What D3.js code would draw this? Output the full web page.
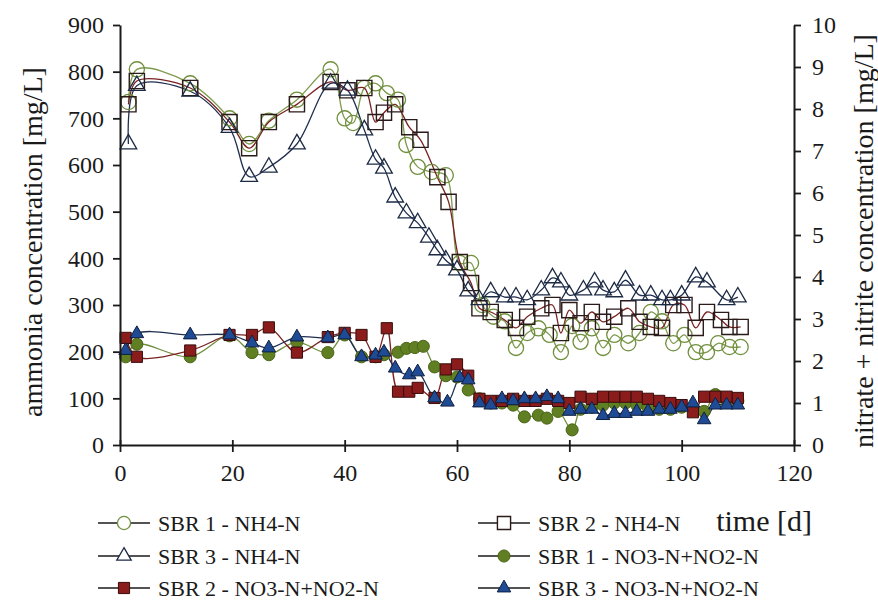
<!DOCTYPE html>
<html><head><meta charset="utf-8">
<script src="https://cdn.jsdelivr.net/npm/d3@7"></script>
<style>
html,body{margin:0;padding:0;background:#fff;}
svg{display:block;}
text{font-family:"Liberation Serif","Times New Roman",serif;fill:#1a1a1a;}
</style></head>
<body>
<svg id="c" width="878" height="602"></svg>
<script>
// ---- data ----
const xTicks = [0, 20, 40, 60, 80, 100, 120];
const yLeftTicks = [0, 100, 200, 300, 400, 500, 600, 700, 800, 900];
const yRightTicks = [0, 1, 2, 3, 4, 5, 6, 7, 8, 9, 10];

const sbr1NH4Days = [1.5, 3, 12.5, 19.5, 23, 26.5, 31.5, 37.5, 40, 41.5, 43.5, 45.5, 47.5, 49.5, 51, 53, 55.5, 58, 60.5, 62.5, 64.5, 66.5, 68.5, 70.5, 72.5, 74.5, 76.5, 78.5, 80.5, 82, 84, 86, 88, 90.5, 92.5, 94.5, 96.5, 98.5, 100.5, 102.5, 104.5, 106.5, 108.5, 110.5];
const sbr1NH4 = [735, 805, 775, 700, 645, 695, 740, 805, 700, 690, 765, 775, 754, 740, 643, 596, 585, 578, 390, 390, 300, 275, 265, 208, 240, 250, 236, 199, 255, 221, 250, 208, 236, 218, 240, 285, 265, 218, 236, 199, 199, 218, 210, 210];

const sbr2NH4Days = [1.5, 3, 12.5, 19.5, 23, 26.5, 31.5, 37.5, 40.5, 43.5, 45.5, 47, 49, 51.5, 53.5, 56.5, 58.5, 60.5, 62.5, 64, 66, 68.5, 70.5, 72.5, 75, 77, 78.5, 80, 82, 84, 86, 88, 90.5, 92.5, 94.5, 96.5, 98.5, 100.5, 102.5, 104.5, 107, 108.5, 110.5];
const sbr2NH4 = [730, 780, 765, 692, 636, 692, 730, 778, 760, 765, 692, 712, 730, 681, 654, 574, 521, 392, 347, 293, 285, 268, 251, 275, 293, 300, 240, 289, 261, 285, 264, 275, 293, 264, 253, 251, 300, 300, 251, 285, 268, 253, 253];

const sbr3NH4Days = [1.5, 3, 12.5, 19.5, 23, 26.5, 31.5, 37.5, 40.5, 43.5, 45.5, 47, 49, 51, 53, 55, 56.5, 58, 60, 62, 64, 66, 68.5, 70.5, 72.5, 75, 77, 78.5, 80, 82.5, 84.5, 86, 88, 90, 92.5, 94.5, 96.5, 98, 100, 102.5, 104.5, 108, 110];
const sbr3NH4 = [645, 770, 758, 680, 575, 595, 645, 775, 760, 675, 612, 593, 531, 497, 476, 445, 418, 396, 375, 330, 311, 328, 317, 317, 311, 332, 358, 349, 321, 332, 349, 332, 328, 353, 321, 321, 311, 311, 321, 360, 349, 311, 317];

const sbr1NOxDays = [1, 3, 12.5, 19.5, 23.5, 26.5, 31.5, 37, 40, 43, 45.5, 47, 49.5, 51, 52.5, 54, 56, 58, 60, 62, 64, 66, 68, 70, 72, 74.5, 76, 78, 80.5, 82, 84, 86, 88, 90, 92, 94, 96, 98, 100, 102, 104, 106, 108, 110];
const sbr1NOx = [2.1, 2.4, 2.1, 2.6, 2.2, 2.15, 2.45, 2.2, 2.62, 2.1, 2.1, 2.15, 2.21, 2.3, 2.32, 2.35, 1.86, 1.65, 1.62, 1.31, 1.1, 1.0, 1.0, 0.95, 0.67, 0.71, 0.64, 0.8, 0.36, 0.85, 0.9, 0.95, 1.0, 1.0, 0.95, 0.9, 0.85, 0.85, 0.9, 0.9, 0.8, 1.2, 1.05, 1.05];

const sbr2NOxDays = [1, 3, 12.5, 19.5, 23.5, 26.5, 31.5, 37, 40, 43, 45.5, 47.5, 49.5, 51.5, 53, 56, 58, 60, 62, 64, 66, 68, 70, 72, 74, 76, 78, 80, 82, 84, 86, 88, 90, 92, 94, 96, 98, 100, 102, 104, 106, 108, 110];
const sbr2NOx = [2.55, 2.1, 2.25, 2.62, 2.62, 2.8, 2.2, 2.57, 2.67, 2.62, 2.1, 2.78, 1.27, 1.27, 1.36, 1.12, 1.8, 1.92, 1.65, 1.1, 1.05, 1.05, 1.1, 1.05, 1.05, 1.1, 1.05, 1.0, 1.15, 1.1, 1.15, 1.15, 1.15, 1.15, 1.1, 1.05, 1.0, 0.95, 0.78, 1.15, 1.15, 1.15, 1.12];

const sbr3NOxDays = [1, 3, 12.5, 19.5, 23.5, 26.5, 31.5, 37, 40, 43, 45.5, 47, 49, 51.5, 53, 56, 58.3, 60.5, 62, 64, 66, 68, 70, 72, 74, 76, 78, 80, 82, 84, 86, 88, 90, 92, 94, 96, 98, 100, 102, 104, 106, 108, 110];
const sbr3NOx = [2.25, 2.65, 2.62, 2.62, 2.43, 2.31, 2.57, 2.55, 2.62, 2.1, 2.14, 2.21, 1.83, 1.67, 1.74, 1.12, 1.02, 1.6, 1.55, 1.0, 0.95, 1.1, 1.05, 1.1, 1.1, 1.15, 1.1, 0.8, 0.85, 0.85, 0.7, 0.75, 0.75, 0.8, 0.8, 0.85, 0.85, 0.9, 1.0, 0.6, 0.95, 0.95, 0.95];

const seriesNames = ["SBR 1 - NH4-N", "SBR 2 - NH4-N", "SBR 3 - NH4-N", "SBR 1 - NO3-N+NO2-N", "SBR 2 - NO3-N+NO2-N", "SBR 3 - NO3-N+NO2-N"];

// ---- layout ----
const svg = d3.select("#c");
const x = d3.scaleLinear().domain([0, 120]).range([120, 794]);
const yL = d3.scaleLinear().domain([0, 900]).range([445, 25]);
const yR = d3.scaleLinear().domain([0, 10]).range([445, 25]);

const series = [
  {name: seriesNames[0], days: sbr1NH4Days, vals: sbr1NH4, y: yL, sym: d3.symbolCircle, size: 180, fill: "none", stroke: "#6f8f3c", line: "#7e9a4e", sw: 1.3},
  {name: seriesNames[1], days: sbr2NH4Days, vals: sbr2NH4, y: yL, sym: d3.symbolSquare, size: 230, fill: "none", stroke: "#2a1a1a", line: "#7a2222", sw: 1.4},
  {name: seriesNames[2], days: sbr3NH4Days, vals: sbr3NH4, y: yL, sym: d3.symbolTriangle, size: 120, fill: "none", stroke: "#1c2a44", line: "#1f2f4f", sw: 1.3},
  {name: seriesNames[3], days: sbr1NOxDays, vals: sbr1NOx, y: yR, sym: d3.symbolCircle, size: 115, fill: "#5f7f22", stroke: "#4a6418", line: "#6f8f3c", sw: 1},
  {name: seriesNames[4], days: sbr2NOxDays, vals: sbr2NOx, y: yR, sym: d3.symbolSquare, size: 125, fill: "#8a1c1c", stroke: "#3a0c0c", line: "#7a2222", sw: 1},
  {name: seriesNames[5], days: sbr3NOxDays, vals: sbr3NOx, y: yR, sym: d3.symbolTriangle, size: 80, fill: "#1f4a94", stroke: "#0f1f3f", line: "#1f2f4f", sw: 1}
];

const plot = svg.append("g");
series.forEach(s => {
  const pts = s.days.map((d, i) => [d, s.vals[i]]);
  const line = d3.line().x(p => x(p[0])).y(p => s.y(p[1])).curve(d3.curveCatmullRom.alpha(0.5));
  plot.append("path").attr("d", line(pts)).attr("fill", "none")
    .attr("stroke", s.line).attr("stroke-width", 1.3);
});
series.forEach(s => {
  const pts = s.days.map((d, i) => [d, s.vals[i]]);
  plot.selectAll(null).data(pts).enter().append("path")
    .attr("transform", p => `translate(${x(p[0])},${s.y(p[1])})`)
    .attr("d", d3.symbol().type(s.sym).size(s.size)())
    .attr("fill", s.fill).attr("stroke", s.stroke).attr("stroke-width", s.sw);
});

// ---- axes ----
const axisColor = "#1a1a1a";
const gl = svg.append("g").attr("transform", "translate(120,0)")
  .call(d3.axisLeft(yL).tickValues(yLeftTicks).tickSize(7).tickPadding(9).tickSizeOuter(0));
const gr = svg.append("g").attr("transform", "translate(794,0)")
  .call(d3.axisRight(yR).tickValues(yRightTicks).tickSize(7).tickPadding(11).tickSizeOuter(0));
const gb = svg.append("g").attr("transform", "translate(0,445)")
  .call(d3.axisBottom(x).tickValues(xTicks).tickSize(7).tickPadding(12).tickSizeOuter(0));
gb.selectAll(".tick line").attr("y1", -5);
[gl, gr, gb].forEach(g => {
  g.select(".domain").attr("stroke", axisColor).attr("stroke-width", 2);
  g.selectAll(".tick line").attr("stroke", axisColor).attr("stroke-width", 1.8);
  g.selectAll(".tick text").style("font-family", '"Liberation Serif","Times New Roman",serif')
    .style("font-size", "24px").attr("fill", "#1a1a1a");
});

// axis titles
svg.append("text").attr("transform", "translate(42,242) rotate(-90)")
  .attr("text-anchor", "middle").style("font-size", "28px").text("ammonia concentration [mg/L]");
svg.append("text").attr("transform", "translate(873,241) rotate(-90)")
  .attr("text-anchor", "middle").style("font-size", "28px").text("nitrate + nitrite concentration [mg/L]");
svg.append("text").attr("x", 812).attr("y", 531).attr("text-anchor", "end")
  .style("font-size", "30px").text("time [d]");

// ---- legend ----
const legPos = [[98, 523], [478, 523], [98, 556], [478, 556], [98, 588], [478, 588]];
const legOrder = [0, 1, 2, 3, 4, 5];
legOrder.forEach((si, k) => {
  const s = series[si];
  const [lx, ly] = legPos[k];
  const g = svg.append("g").attr("transform", `translate(${lx},${ly})`);
  g.append("line").attr("x1", 0).attr("x2", 52).attr("y1", 0).attr("y2", 0)
    .attr("stroke", "#1a1a1a").attr("stroke-width", 1.6);
  g.append("path").attr("transform", "translate(26,0)")
    .attr("d", d3.symbol().type(s.sym).size(si < 3 ? s.size * 0.75 : s.size)())
    .attr("fill", si < 3 ? "#fff" : s.fill).attr("stroke", s.stroke).attr("stroke-width", s.sw);
  g.append("text").attr("x", 60).attr("y", 7.5).style("font-size", "22px").text(s.name);
});
</script>
</body></html>
